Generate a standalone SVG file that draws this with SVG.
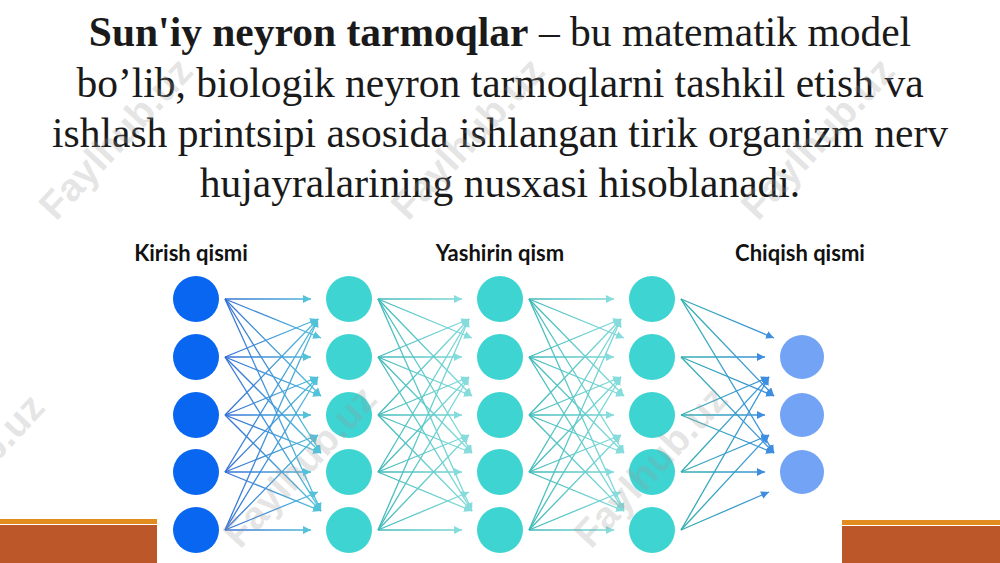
<svg xmlns="http://www.w3.org/2000/svg" width="1000" height="563" viewBox="0 0 1000 563">
<style>
.title{font-family:"Liberation Serif","Times New Roman",serif;font-size:41.5px;fill:#1a1a1a;text-anchor:middle}
.lbl{font-family:Lato,"Liberation Sans",sans-serif;font-weight:bold;font-size:22px;fill:#111;text-anchor:middle}
.in{fill:#0866f0}
.hid{fill:#3dd4d2}
.out{fill:#73a3f5}
.g1{stroke:url(#gr1);stroke-width:1.3;fill:none;marker-end:url(#a1)}
.g2{stroke:url(#gr2);stroke-width:1.3;fill:none;marker-end:url(#a2)}
.g3{stroke:url(#gr3);stroke-width:1.3;fill:none;marker-end:url(#a2)}
.g4{stroke:url(#gr4);stroke-width:1.3;fill:none;marker-end:url(#a4)}
.wm{font-family:"Liberation Sans",Arial,sans-serif;font-weight:bold;font-size:39px;fill:#9a9a9a;fill-opacity:0.26}
</style>
<defs>
<linearGradient id="gr1" gradientUnits="userSpaceOnUse" x1="225" y1="0" x2="321" y2="0"><stop offset="0" stop-color="#3570d6"/><stop offset="1" stop-color="#52c2da"/></linearGradient>
<linearGradient id="gr2" gradientUnits="userSpaceOnUse" x1="378" y1="0" x2="472" y2="0"><stop offset="0" stop-color="#3fb9b9"/><stop offset="1" stop-color="#86dcdc"/></linearGradient>
<linearGradient id="gr3" gradientUnits="userSpaceOnUse" x1="529" y1="0" x2="624" y2="0"><stop offset="0" stop-color="#3fb9b9"/><stop offset="1" stop-color="#86dcdc"/></linearGradient>
<linearGradient id="gr4" gradientUnits="userSpaceOnUse" x1="681" y1="0" x2="774" y2="0"><stop offset="0" stop-color="#34b0b0"/><stop offset="1" stop-color="#3d8ee0"/></linearGradient>
<marker id="a1" markerUnits="userSpaceOnUse" markerWidth="10" markerHeight="8" refX="8" refY="4" orient="auto"><path d="M0,0 L8,4 L0,8 Z" fill="#52c2da"/></marker>
<marker id="a2" markerUnits="userSpaceOnUse" markerWidth="10" markerHeight="8" refX="8" refY="4" orient="auto"><path d="M0,0 L8,4 L0,8 Z" fill="#86dcdc"/></marker>
<marker id="a4" markerUnits="userSpaceOnUse" markerWidth="10" markerHeight="8" refX="8" refY="4" orient="auto"><path d="M0,0 L8,4 L0,8 Z" fill="#3d8ee0"/></marker>
</defs>
<rect width="1000" height="563" fill="#ffffff"/>

<g id="title">
<text class="title" x="500" y="46"><tspan font-weight="bold">Sun'iy neyron tarmoqlar</tspan> – bu matematik model</text>
<text class="title" x="500" y="97">bo’lib, biologik neyron tarmoqlarni tashkil etish va</text>
<text class="title" x="500" y="147">ishlash printsipi asosida ishlangan tirik organizm nerv</text>
<text class="title" x="500" y="197">hujayralarining nusxasi hisoblanadi.</text>
</g>

<g id="labels">
<text class="lbl" x="191" y="261">Kirish qismi</text>
<text class="lbl" x="500" y="261">Yashirin qism</text>
<text class="lbl" x="800" y="261">Chiqish qismi</text>
</g>

<g id="bars">
<rect x="0" y="519" width="157" height="5" fill="#e28c1f"/>
<rect x="0" y="525" width="157" height="38" fill="#bb5729"/>
<rect x="842" y="520" width="158" height="5" fill="#e28c1f"/>
<rect x="842" y="526" width="158" height="37" fill="#bb5729"/>
</g>

<g id="connectors">
<!-- gap 1 -->
<path class="g1" d="M225,299 L311,299"/><path class="g1" d="M225,299 L321,338"/><path class="g1" d="M225,299 L321,396"/><path class="g1" d="M225,299 L321,453"/><path class="g1" d="M225,299 L321,511"/>
<path class="g1" d="M225,357 L318,319"/><path class="g1" d="M225,357 L311,357"/><path class="g1" d="M225,357 L321,396"/><path class="g1" d="M225,357 L321,453"/><path class="g1" d="M225,357 L321,511"/>
<path class="g1" d="M225,415 L318,319"/><path class="g1" d="M225,415 L318,377"/><path class="g1" d="M225,415 L311,415"/><path class="g1" d="M225,415 L321,453"/><path class="g1" d="M225,415 L321,511"/>
<path class="g1" d="M225,472 L318,319"/><path class="g1" d="M225,472 L318,377"/><path class="g1" d="M225,472 L318,435"/><path class="g1" d="M225,472 L311,472"/><path class="g1" d="M225,472 L321,511"/>
<path class="g1" d="M225,530 L318,319"/><path class="g1" d="M225,530 L318,377"/><path class="g1" d="M225,530 L318,435"/><path class="g1" d="M225,530 L318,492"/><path class="g1" d="M225,530 L311,530"/>
<!-- gap 2 -->
<path class="g2" d="M378,299 L462,299"/><path class="g2" d="M378,299 L472,338"/><path class="g2" d="M378,299 L472,396"/><path class="g2" d="M378,299 L472,453"/><path class="g2" d="M378,299 L472,511"/>
<path class="g2" d="M378,357 L469,319"/><path class="g2" d="M378,357 L462,357"/><path class="g2" d="M378,357 L472,396"/><path class="g2" d="M378,357 L472,453"/><path class="g2" d="M378,357 L472,511"/>
<path class="g2" d="M378,415 L469,319"/><path class="g2" d="M378,415 L469,377"/><path class="g2" d="M378,415 L462,415"/><path class="g2" d="M378,415 L472,453"/><path class="g2" d="M378,415 L472,511"/>
<path class="g2" d="M378,472 L469,319"/><path class="g2" d="M378,472 L469,377"/><path class="g2" d="M378,472 L469,435"/><path class="g2" d="M378,472 L462,472"/><path class="g2" d="M378,472 L472,511"/>
<path class="g2" d="M378,530 L469,319"/><path class="g2" d="M378,530 L469,377"/><path class="g2" d="M378,530 L469,435"/><path class="g2" d="M378,530 L469,492"/><path class="g2" d="M378,530 L462,530"/>
<!-- gap 3 -->
<path class="g3" d="M529,299 L614,299"/><path class="g3" d="M529,299 L624,338"/><path class="g3" d="M529,299 L624,396"/><path class="g3" d="M529,299 L624,453"/><path class="g3" d="M529,299 L624,511"/>
<path class="g3" d="M529,357 L621,319"/><path class="g3" d="M529,357 L614,357"/><path class="g3" d="M529,357 L624,396"/><path class="g3" d="M529,357 L624,453"/><path class="g3" d="M529,357 L624,511"/>
<path class="g3" d="M529,415 L621,319"/><path class="g3" d="M529,415 L621,377"/><path class="g3" d="M529,415 L614,415"/><path class="g3" d="M529,415 L624,453"/><path class="g3" d="M529,415 L624,511"/>
<path class="g3" d="M529,472 L621,319"/><path class="g3" d="M529,472 L621,377"/><path class="g3" d="M529,472 L621,435"/><path class="g3" d="M529,472 L614,472"/><path class="g3" d="M529,472 L624,511"/>
<path class="g3" d="M529,530 L621,319"/><path class="g3" d="M529,530 L621,377"/><path class="g3" d="M529,530 L621,435"/><path class="g3" d="M529,530 L621,492"/><path class="g3" d="M529,530 L614,530"/>
<!-- gap 4 -->
<path class="g4" d="M681,299 L774,338"/><path class="g4" d="M681,299 L774,396"/><path class="g4" d="M681,299 L774,453"/>
<path class="g4" d="M681,357 L765,357"/><path class="g4" d="M681,357 L774,396"/><path class="g4" d="M681,357 L774,453"/>
<path class="g4" d="M681,415 L769,377"/><path class="g4" d="M681,415 L765,415"/><path class="g4" d="M681,415 L774,453"/>
<path class="g4" d="M681,472 L769,377"/><path class="g4" d="M681,472 L769,435"/><path class="g4" d="M681,472 L765,472"/>
<path class="g4" d="M681,530 L769,377"/><path class="g4" d="M681,530 L769,435"/><path class="g4" d="M681,530 L769,492"/>
</g>

<g id="input-layer">
<circle id="in1" class="in" cx="196" cy="299" r="23"/>
<circle id="in2" class="in" cx="196" cy="357" r="23"/>
<circle id="in3" class="in" cx="196" cy="415" r="23"/>
<circle id="in4" class="in" cx="196" cy="472" r="23"/>
<circle id="in5" class="in" cx="196" cy="530" r="23"/>
</g>
<g id="hidden-layer-1">
<circle id="h1a" class="hid" cx="349" cy="299" r="23"/>
<circle id="h1b" class="hid" cx="349" cy="357" r="23"/>
<circle id="h1c" class="hid" cx="349" cy="415" r="23"/>
<circle id="h1d" class="hid" cx="349" cy="472" r="23"/>
<circle id="h1e" class="hid" cx="349" cy="530" r="23"/>
</g>
<g id="hidden-layer-2">
<circle id="h2a" class="hid" cx="500" cy="299" r="23"/>
<circle id="h2b" class="hid" cx="500" cy="357" r="23"/>
<circle id="h2c" class="hid" cx="500" cy="415" r="23"/>
<circle id="h2d" class="hid" cx="500" cy="472" r="23"/>
<circle id="h2e" class="hid" cx="500" cy="530" r="23"/>
</g>
<g id="hidden-layer-3">
<circle id="h3a" class="hid" cx="652" cy="299" r="23"/>
<circle id="h3b" class="hid" cx="652" cy="357" r="23"/>
<circle id="h3c" class="hid" cx="652" cy="415" r="23"/>
<circle id="h3d" class="hid" cx="652" cy="472" r="23"/>
<circle id="h3e" class="hid" cx="652" cy="530" r="23"/>
</g>
<g id="output-layer">
<circle id="o1" class="out" cx="802" cy="357" r="22"/>
<circle id="o2" class="out" cx="802" cy="415" r="22"/>
<circle id="o3" class="out" cx="802" cy="472" r="22"/>
</g>

<g id="watermarks">
<text class="wm" transform="translate(56,222) rotate(-47)">Faylhub.uz</text>
<text class="wm" transform="translate(408,222) rotate(-47)">Faylhub.uz</text>
<text class="wm" transform="translate(758,222) rotate(-47)">Faylhub.uz</text>
<text class="wm" transform="translate(-92,558) rotate(-47)">Faylhub.uz</text>
<text class="wm" transform="translate(240,550) rotate(-47)">Faylhub.uz</text>
<text class="wm" transform="translate(591,550) rotate(-47)">Faylhub.uz</text>
</g>
</svg>
